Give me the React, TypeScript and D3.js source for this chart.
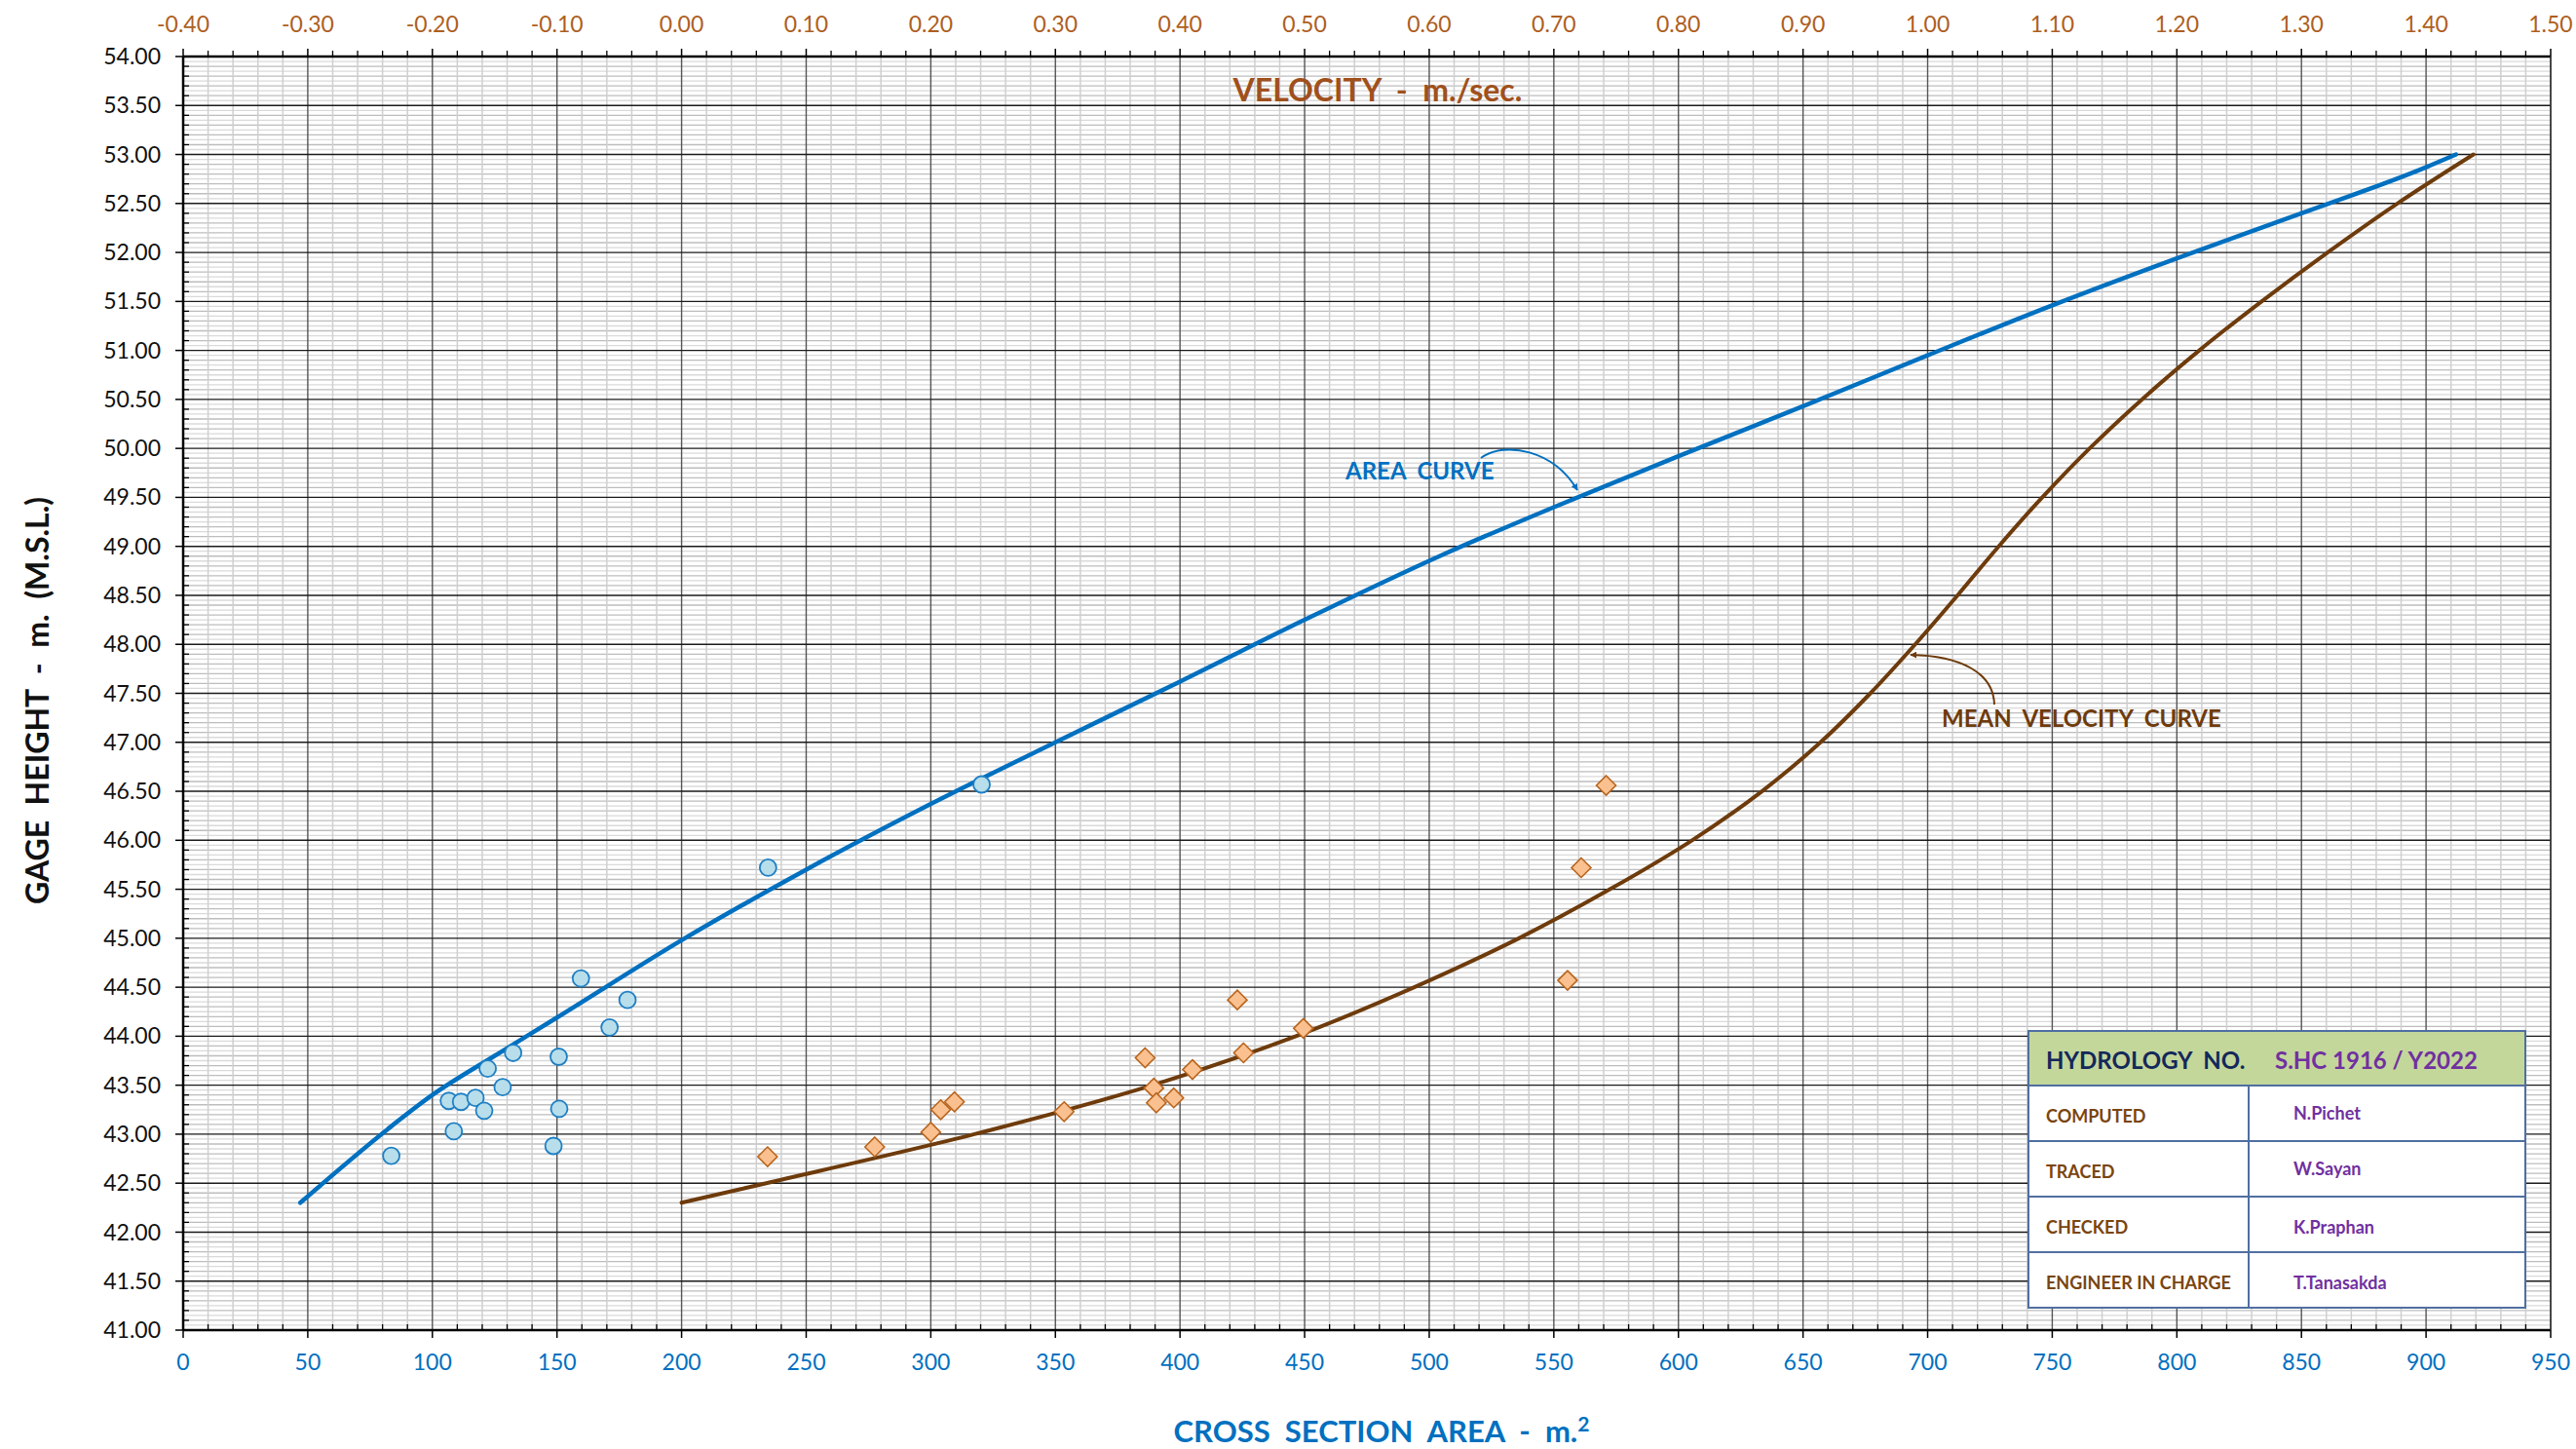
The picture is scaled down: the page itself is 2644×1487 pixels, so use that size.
import React from 'react';
import * as d3 from 'd3';

// ---------- data ----------
const areaTicks = d3.range(0, 951, 50);
const velocityTicks = d3.range(-4, 16).map((i) => i / 10);
const gageTicks = d3.range(82, 109).map((i) => i / 2);

// observed cross-section areas (m2) vs gage height
const obsArea = [83.5, 108.6, 106.6, 111.5, 117.3, 120.8, 122.2, 128.2, 132.4, 148.6, 150.7, 150.9, 159.6, 171.1, 178.3, 234.7, 320.4];
const obsAreaGage = [42.78, 43.03, 43.34, 43.33, 43.37, 43.24, 43.67, 43.48, 43.83, 42.88, 43.79, 43.26, 44.59, 44.09, 44.37, 45.72, 46.57];

// observed mean velocities (m/s) vs gage height
const obsVel = [0.069, 0.155, 0.2, 0.208, 0.219, 0.307, 0.372, 0.379, 0.381, 0.395, 0.41, 0.446, 0.451, 0.499, 0.711, 0.722, 0.742];
const obsVelGage = [42.77, 42.87, 43.02, 43.25, 43.33, 43.23, 43.78, 43.47, 43.32, 43.37, 43.66, 44.37, 43.83, 44.08, 44.57, 45.72, 46.56];

// area curve
const areaCurveArea = [47, 82, 100, 125, 150, 200, 250, 300, 350, 400, 450, 505, 550, 600, 650, 700, 750, 800, 850, 900, 912];
const areaCurveGage = [42.3, 43.05, 43.4, 43.8, 44.19, 44.98, 45.7, 46.37, 47.0, 47.62, 48.25, 48.91, 49.4, 49.92, 50.43, 50.95, 51.46, 51.94, 52.4, 52.87, 53.0];

// mean velocity curve
const velCurveVel = [0.0, 0.068, 0.235, 0.378, 0.493, 0.588, 0.672, 0.745, 0.811, 0.867, 0.914, 0.954, 0.99, 1.024, 1.057, 1.092, 1.13, 1.172, 1.218, 1.268, 1.321, 1.377, 1.438];
const velCurveGage = [42.3, 42.5, 43.0, 43.5, 44.0, 44.5, 45.0, 45.5, 46.0, 46.5, 47.0, 47.5, 48.0, 48.5, 49.0, 49.5, 50.0, 50.5, 51.0, 51.5, 52.0, 52.5, 53.0];

const tableRowLabels = ['COMPUTED', 'TRACED', 'CHECKED', 'ENGINEER IN CHARGE'];
const tableRowNames = ['N.Pichet', 'W.Sayan', 'K.Praphan', 'T.Tanasakda'];
const hydrologyNo = 'S.HC 1916 / Y2022';

// ---------- layout ----------
const W = 2644;
const H = 1487;
const L = 188, R = 2618, T = 58, B = 1365;
const FONT = "Lato, 'Open Sans', sans-serif";

const BLUE = '#0070C0';
const BROWN = '#6E3B0C';

export default function App() {
  const x = d3.scaleLinear().domain([0, 950]).range([L, R]);
  const xv = d3.scaleLinear().domain([-0.4, 1.5]).range([L, R]);
  const y = d3.scaleLinear().domain([41, 54]).range([B, T]);
  const f2 = (v: number) => (Math.abs(v) < 1e-9 ? 0 : v).toFixed(2);

  const minorV = d3.range(0, 951, 10).filter((v) => v % 50 !== 0);
  const minorH = d3.range(820, 1081).filter((i) => i % 10 !== 0);

  const areaLine = d3
    .line<number>()
    .x((_, i) => x(areaCurveArea[i]))
    .y((_, i) => y(areaCurveGage[i]))
    .curve(d3.curveMonotoneX);
  const velLine = d3
    .line<number>()
    .x((_, i) => xv(velCurveVel[i]))
    .y((_, i) => y(velCurveGage[i]))
    .curve(d3.curveCatmullRom.alpha(0.5));

  // table geometry
  const tL = 2082, tR = 2592, tMid = 2308;
  const tTop = 1058, tHead = 1114;
  const rowH = (1342 - tHead) / 4;

  return (
    <svg
      width={W}
      height={H}
      viewBox={`0 0 ${W} ${H}`}
      style={{ position: 'absolute', left: 0, top: 0, background: '#fff' }}
      fontFamily={FONT}
    >
      <defs>
        <marker id="arrBlue" viewBox="0 0 10 10" refX="9" refY="5" markerWidth="7" markerHeight="7" orient="auto" markerUnits="userSpaceOnUse">
          <path d="M0,0 L10,5 L0,10 z" fill={BLUE} />
        </marker>
        <marker id="arrBrown" viewBox="0 0 10 10" refX="9" refY="5" markerWidth="7" markerHeight="7" orient="auto" markerUnits="userSpaceOnUse">
          <path d="M0,0 L10,5 L0,10 z" fill={BROWN} />
        </marker>
      </defs>
      <rect x={0} y={0} width={W} height={H} fill="#fff" />

      {/* minor horizontal grid (0.05 / 0.1) */}
      {minorH.map((i) => (
        <line key={'mh' + i} x1={L} x2={R} y1={y(i / 20)} y2={y(i / 20)} stroke={i % 2 === 0 ? '#bdbdbd' : '#dadada'} strokeWidth={1.3} />
      ))}
      {/* minor vertical grid */}
      {minorV.map((v) => (
        <line key={'mv' + v} x1={x(v)} x2={x(v)} y1={T} y2={B} stroke="#cfcfcf" strokeWidth={1.5} />
      ))}
      {/* major vertical grid */}
      {areaTicks.map((v) => (
        <line key={'Mv' + v} x1={x(v)} x2={x(v)} y1={T} y2={B} stroke="#555" strokeWidth={1.4} />
      ))}
      {/* major horizontal grid */}
      {gageTicks.map((g) => (
        <line key={'Mh' + g} x1={L} x2={R} y1={y(g)} y2={y(g)} stroke="#1a1a1a" strokeWidth={1.4} />
      ))}

      {/* axes */}
      <line x1={L} x2={R} y1={B} y2={B} stroke="#000" strokeWidth={2.5} />
      <line x1={L} x2={R} y1={T} y2={T} stroke="#000" strokeWidth={2.5} />
      <line x1={L} x2={L} y1={T} y2={B} stroke="#000" strokeWidth={2.5} />
      <line x1={R} x2={R} y1={T} y2={B} stroke="#333" strokeWidth={1.5} />

      {/* left ticks */}
      {gageTicks.map((g) => (
        <line key={'lt' + g} x1={L - 8} x2={L} y1={y(g)} y2={y(g)} stroke="#000" strokeWidth={1.5} />
      ))}
      {d3.range(410, 541).filter((i) => i % 5 !== 0).map((i) => (
        <line key={'ltm' + i} x1={L} x2={L + 6} y1={y(i / 10)} y2={y(i / 10)} stroke="#000" strokeWidth={1.3} />
      ))}
      {/* bottom ticks */}
      {areaTicks.map((v) => (
        <line key={'bt' + v} x1={x(v)} x2={x(v)} y1={B} y2={B + 8} stroke="#000" strokeWidth={1.5} />
      ))}
      {minorV.map((v) => (
        <line key={'btm' + v} x1={x(v)} x2={x(v)} y1={B - 6} y2={B} stroke="#000" strokeWidth={1.3} />
      ))}
      {/* top ticks */}
      {areaTicks.map((v) => (
        <line key={'tt' + v} x1={x(v)} x2={x(v)} y1={T - 8} y2={T} stroke="#000" strokeWidth={1.5} />
      ))}
      {minorV.map((v) => (
        <line key={'ttm' + v} x1={x(v)} x2={x(v)} y1={T - 6} y2={T} stroke="#000" strokeWidth={1.3} />
      ))}

      {/* tick labels */}
      {gageTicks.map((g) => (
        <text key={'yl' + g} x={165} y={y(g)} dy="0.35em" textAnchor="end" fontSize={23} fill="#111">
          {f2(g)}
        </text>
      ))}
      {areaTicks.map((v) => (
        <text key={'xl' + v} x={x(v)} y={1398} dy="0.35em" textAnchor="middle" fontSize={23} fill={BLUE}>
          {v}
        </text>
      ))}
      {velocityTicks.map((v) => (
        <text key={'vl' + v} x={xv(v)} y={25} dy="0.35em" textAnchor="middle" fontSize={23} fill="#AE5E1E">
          {f2(v)}
        </text>
      ))}

      {/* axis titles */}
      <text x={1414} y={104} textAnchor="middle" fontSize={32} fontWeight="bold" fill="#A0501C" style={{ whiteSpace: 'pre' }}>
        {'VELOCITY  -  m./sec.'}
      </text>
      <text x={1418} y={1480} textAnchor="middle" fontSize={31} fontWeight="bold" fill={BLUE} style={{ whiteSpace: 'pre' }}>
        {'CROSS  SECTION  AREA  -  m.'}
        <tspan dy={-11} fontSize={21}>2</tspan>
      </text>
      <text
        transform={`translate(50,719) rotate(-90)`}
        textAnchor="middle"
        fontSize={32}
        fontWeight="bold"
        fill="#111"
        style={{ whiteSpace: 'pre' }}
      >
        {'GAGE  HEIGHT  -  m.  (M.S.L.)'}
      </text>

      {/* curves */}
      <path d={areaLine(areaCurveArea) || ''} fill="none" stroke={BLUE} strokeWidth={4.5} strokeLinecap="round" />
      <path d={velLine(velCurveVel) || ''} fill="none" stroke={BROWN} strokeWidth={4} strokeLinecap="round" />

      {/* observations */}
      {obsArea.map((a, i) => (
        <circle key={'oa' + i} cx={x(a)} cy={y(obsAreaGage[i])} r={8.5} fill="#B7DEEA" stroke="#1F7FC4" strokeWidth={1.8} />
      ))}
      {obsVel.map((v, i) => {
        const cx = xv(v);
        const cy = y(obsVelGage[i]);
        const s = 10;
        return (
          <path
            key={'ov' + i}
            d={`M${cx},${cy - s} L${cx + s},${cy} L${cx},${cy + s} L${cx - s},${cy} Z`}
            fill="#FAC08F"
            stroke="#B8651E"
            strokeWidth={1.6}
          />
        );
      })}

      {/* annotations */}
      <text x={1381} y={492} fontSize={24} fontWeight="bold" fill={BLUE} style={{ whiteSpace: 'pre' }}>
        {'AREA  CURVE'}
      </text>
      <path d="M1520,470 C1545,452 1595,462 1619,503" fill="none" stroke={BLUE} strokeWidth={2} markerEnd="url(#arrBlue)" />

      <text x={1993} y={746} fontSize={24} fontWeight="bold" fill={BROWN} style={{ whiteSpace: 'pre' }}>
        {'MEAN  VELOCITY  CURVE'}
      </text>
      <path d="M2047,723 C2046,690 2012,673 1961,672" fill="none" stroke={BROWN} strokeWidth={2} markerEnd="url(#arrBrown)" />

      {/* table */}
      <rect x={tL} y={tTop} width={tR - tL} height={tHead - tTop} fill="#C4D79B" />
      <rect x={tL} y={tHead} width={tR - tL} height={rowH * 4} fill="#fff" />
      <rect x={tL} y={tTop} width={tR - tL} height={tHead - tTop + rowH * 4} fill="none" stroke="#4F6FA0" strokeWidth={2} />
      <line x1={tL} x2={tR} y1={tHead} y2={tHead} stroke="#4F6FA0" strokeWidth={2} />
      {[1, 2, 3].map((k) => (
        <line key={'tr' + k} x1={tL} x2={tR} y1={tHead + rowH * k} y2={tHead + rowH * k} stroke="#4F6FA0" strokeWidth={2} />
      ))}
      <line x1={tMid} x2={tMid} y1={tHead} y2={tHead + rowH * 4} stroke="#4F6FA0" strokeWidth={2} />
      <text x={2100} y={1097} fontSize={24} fontWeight="bold" fill="#14285A" style={{ whiteSpace: 'pre' }}>
        {'HYDROLOGY  NO.'}
      </text>
      <text x={2335} y={1097} fontSize={24} fontWeight="bold" fill="#7030A0">
        {hydrologyNo}
      </text>
      {tableRowLabels.map((t, k) => (
        <text key={'tl' + k} x={2100} y={tHead + rowH * k + 38} fontSize={18} fontWeight="bold" fill="#7A4510">
          {t}
        </text>
      ))}
      {tableRowNames.map((t, k) => (
        <text key={'tn' + k} x={2354} y={tHead + rowH * k + 35 + (k >= 2 ? 3 : 0)} fontSize={18} fontWeight="bold" fill="#7030A0">
          {t}
        </text>
      ))}
    </svg>
  );
}
